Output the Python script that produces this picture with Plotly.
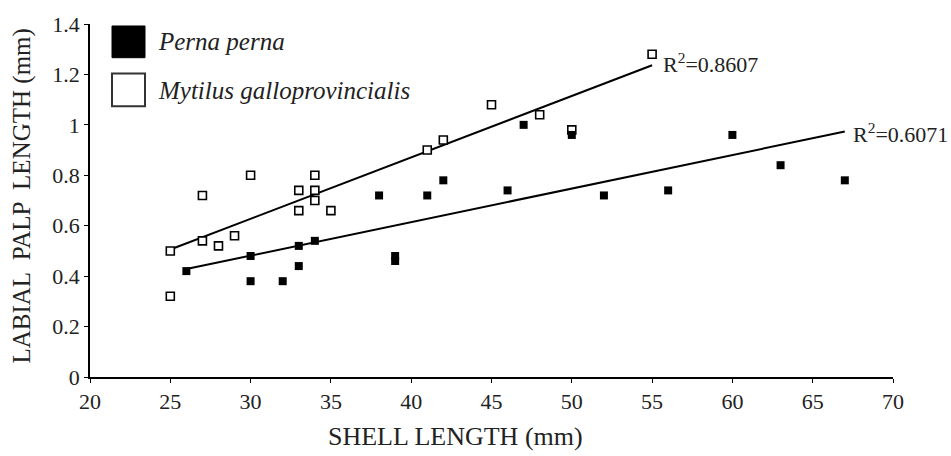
import numpy as np
import plotly.graph_objects as go

# Perna perna (filled squares)
perna_x = [26, 30, 30, 32, 33, 33, 34, 38, 39, 39, 41, 42, 46, 47, 50, 52, 56, 60, 63, 67]
perna_y = [0.42, 0.48, 0.38, 0.38, 0.52, 0.44, 0.54, 0.72, 0.48, 0.46, 0.72, 0.78, 0.74, 1.00, 0.96, 0.72, 0.74, 0.96, 0.84, 0.78]

# Mytilus galloprovincialis (open squares)
myt_x = [25, 25, 27, 27, 28, 29, 30, 33, 33, 34, 34, 34, 35, 41, 42, 45, 48, 50, 55]
myt_y = [0.50, 0.32, 0.72, 0.54, 0.52, 0.56, 0.80, 0.74, 0.66, 0.80, 0.74, 0.70, 0.66, 0.90, 0.94, 1.08, 1.04, 0.98, 1.28]

r2_labels = ["R<sup>2</sup>=0.6071", "R<sup>2</sup>=0.8607"]
legend_names = ["Perna perna", "Mytilus galloprovincialis"]
x_title = "SHELL LENGTH (mm)"
y_title = "LABIAL  PALP  LENGTH (mm)"

SERIF = "Liberation Serif, Times New Roman, serif"
TXT = "#222"


def fit_line(xs, ys):
    xs = np.asarray(xs, float)
    ys = np.asarray(ys, float)
    b, a = np.polyfit(xs, ys, 1)
    lx = np.array([xs.min(), xs.max()])
    return lx, a + b * lx


fig = go.Figure()

px_, py_ = fit_line(perna_x, perna_y)
mx_, my_ = fit_line(myt_x, myt_y)

for lx, ly in [(px_, py_), (mx_, my_)]:
    fig.add_trace(go.Scatter(x=lx, y=ly, mode="lines",
                             line=dict(color="black", width=2),
                             showlegend=False, hoverinfo="skip"))

fig.add_trace(go.Scatter(x=myt_x, y=myt_y, mode="markers", name=legend_names[1],
                         marker=dict(symbol="square", size=8, color="white",
                                     line=dict(color="black", width=1.6)),
                         showlegend=False))
fig.add_trace(go.Scatter(x=perna_x, y=perna_y, mode="markers", name=legend_names[0],
                         marker=dict(symbol="square", size=8, color="black",
                                     line=dict(color="black", width=0)),
                         showlegend=False))

L, R, T, B = 90, 58, 21, 79
PW, PH = 951 - L - R, 456 - T - B


def pxx(p):
    return (p - L) / PW


def pxy(p):
    return (456 - B - p) / PH


annotations = [
    dict(x=px_[-1], y=py_[-1], xref="x", yref="y", text=r2_labels[0],
         showarrow=False, xanchor="left", yanchor="middle", xshift=6, yshift=-1,
         font=dict(family=SERIF, size=22, color=TXT)),
    dict(x=mx_[-1], y=my_[-1], xref="x", yref="y", text=r2_labels[1],
         showarrow=False, xanchor="left", yanchor="middle", xshift=9, yshift=2,
         font=dict(family=SERIF, size=22, color=TXT)),
    dict(x=pxx(156), y=pxy(39), xref="paper", yref="paper", text="<i>" + legend_names[0] + "</i>",
         showarrow=False, xanchor="left", yanchor="middle",
         font=dict(family=SERIF, size=25, color=TXT)),
    dict(x=pxx(156), y=pxy(88), xref="paper", yref="paper", text="<i>" + legend_names[1] + "</i>",
         showarrow=False, xanchor="left", yanchor="middle",
         font=dict(family=SERIF, size=25, color=TXT)),
    dict(x=pxx(455), y=pxy(437), xref="paper", yref="paper", text=x_title,
         showarrow=False, xanchor="center", yanchor="middle",
         font=dict(family=SERIF, size=26, color=TXT)),
    dict(x=pxx(22), y=pxy(195), xref="paper", yref="paper", text=y_title, textangle=-90,
         showarrow=False, xanchor="center", yanchor="middle",
         font=dict(family=SERIF, size=25, color=TXT)),
]

shapes = [
    dict(type="rect", xref="paper", yref="paper", x0=pxx(112), x1=pxx(145), y0=pxy(55), y1=pxy(23),
         fillcolor="black", line=dict(color="black", width=1)),
    dict(type="rect", xref="paper", yref="paper", x0=pxx(112), x1=pxx(145), y0=pxy(104), y1=pxy(71),
         fillcolor="white", line=dict(color="#333", width=2)),
]

fig.update_layout(
    width=951, height=456,
    margin=dict(l=L, r=R, t=T, b=B),
    paper_bgcolor="white", plot_bgcolor="white",
    font=dict(family=SERIF, size=22, color=TXT),
    annotations=annotations, shapes=shapes,
    showlegend=False,
)
fig.update_xaxes(range=[20, 70], dtick=5, tick0=20, showgrid=False, zeroline=False,
                 showline=True, linecolor="black", linewidth=1.5,
                 ticks="outside", ticklen=4, tickcolor="black",
                 tickfont=dict(family=SERIF, size=22, color=TXT))
fig.update_yaxes(range=[0, 1.4], dtick=0.2, tick0=0, showgrid=False, zeroline=False,
                 showline=True, linecolor="black", linewidth=1.5,
                 ticks="outside", ticklen=4, tickcolor="black",
                 tickfont=dict(family=SERIF, size=22, color=TXT))

fig.write_html("out.html")
